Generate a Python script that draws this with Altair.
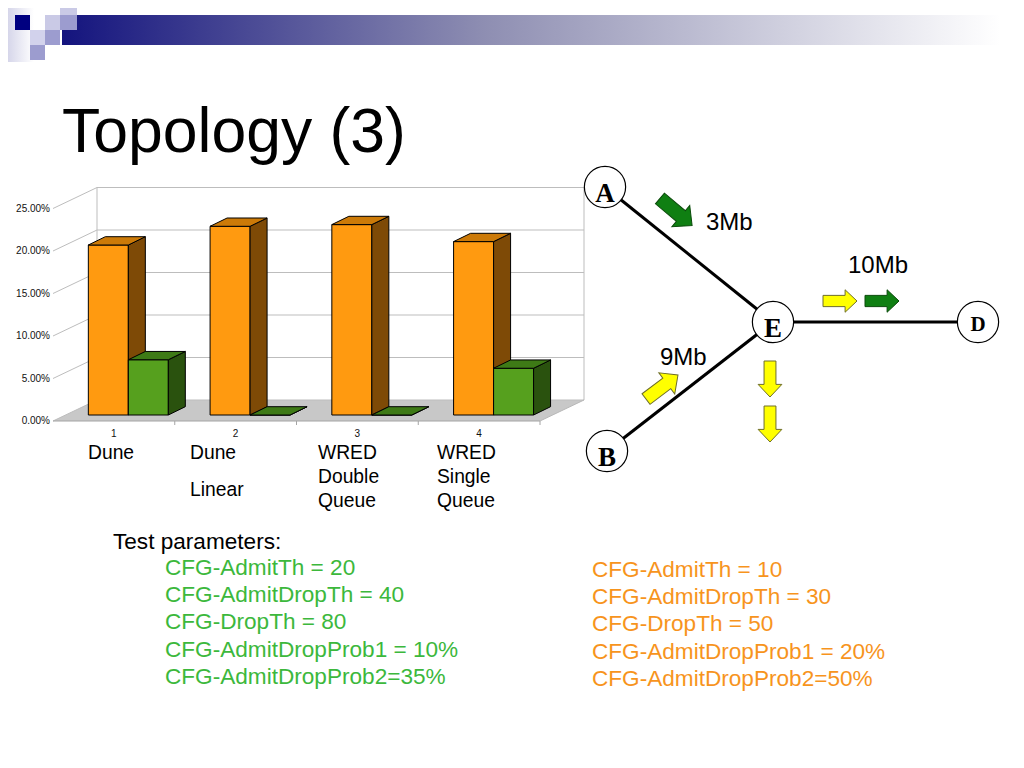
import altair as alt
import pandas as pd

# ---------------- data ----------------
categories = ["1", "2", "3", "4"]
category_names = [["Dune"], ["Dune", "Linear"], ["WRED", "Double", "Queue"], ["WRED", "Single", "Queue"]]
orange_values = [0.200, 0.222, 0.224, 0.204]
green_values = [0.065, 0.0, 0.0, 0.055]
y_ticks = [0.0, 0.05, 0.10, 0.15, 0.20, 0.25]

title_text = "Topology (3)"
params_header = "Test parameters:"
params_green = ["CFG-AdmitTh = 20", "CFG-AdmitDropTh = 40", "CFG-DropTh = 80",
                "CFG-AdmitDropProb1 = 10%", "CFG-AdmitDropProb2=35%"]
params_orange = ["CFG-AdmitTh = 10", "CFG-AdmitDropTh = 30", "CFG-DropTh = 50",
                 "CFG-AdmitDropProb1 = 20%", "CFG-AdmitDropProb2=50%"]

node_names = ["A", "B", "E", "D"]
link_pairs = [["A", "E"], ["B", "E"], ["E", "D"]]
link_labels = ["3Mb", "9Mb", "10Mb"]

# ---------------- layout (page pixels) ----------------
W, H = 1000, 744
M = 8                  # page coordinate of the plot's top-left corner
FONT = "Liberation Sans"
PPU = 850.0            # pixels per 100 %
FRONT_ZERO, BACK_ZERO, BAR_ZERO = 421, 400, 415
FRONT_LEFT, DEPTH_X, CAT_W = 53, 44, 121.75
BACK_LEFT = FRONT_LEFT + DEPTH_X
FRONT_RIGHT = FRONT_LEFT + len(categories) * CAT_W
BACK_RIGHT = FRONT_RIGHT + DEPTH_X
BAR_LEFT = FRONT_LEFT + DEPTH_X * (FRONT_ZERO - BAR_ZERO) / (FRONT_ZERO - BACK_ZERO)
BAR_GAP, BAR_W = 0.187, 0.3285
BAR_DX, BAR_DY = 17 / CAT_W, 8.3 / PPU

CAT_NAME_X = [88, 190, 318, 437]
CAT_LINE_Y = [[459], [459, 496], [459, 483, 507], [459, 483, 507]]

NODE_POS = {"A": (605, 187), "B": (607, 451), "E": (773, 322), "D": (978, 322)}
NODE_FONT = {"A": 27, "B": 27, "E": 27, "D": 21}
NODE_TEXT_DY = {"A": 15, "B": 15, "E": 15, "D": 9}
LINK_LABEL_POS = [(706, 230), (660, 365), (848, 273)]
ARROW = "M-1,-0.33L0.3,-0.33L0.3,-0.66L1,0L0.3,0.66L0.3,0.33L-1,0.33Z"
ARROWS = [  # x, y, angle, fill, stroke, size
    (676, 212, 40, "#0F7F12", "#0A4A0A", 1764),
    (840, 301, 0, "#FFFF00", "#6E6E2A", 1156),
    (882, 301, 0, "#0F7F12", "#0A4A0A", 1156),
    (662, 387, 323, "#FFFF00", "#6E6E2A", 1600),
    (770, 379, 90, "#FFFF00", "#6E6E2A", 1296),
    (770, 424, 90, "#FFFF00", "#6E6E2A", 1296),
]


# ---------------- scale helpers ----------------
def px_x(f):
    return alt.X(f, type="quantitative", stack=None, axis=None,
                 scale=alt.Scale(domain=[M, M + W], nice=False, zero=False))


def px_y(f):
    return alt.Y(f, type="quantitative", stack=None, axis=None,
                 scale=alt.Scale(domain=[M, M + H], reverse=True, nice=False, zero=False))


def pct_y(f, zero_px):
    return alt.Y(f, type="quantitative", stack=None, axis=None,
                 scale=alt.Scale(domain=[(zero_px - (M + H)) / PPU, (zero_px - M) / PPU],
                                 nice=False, zero=False))


def cat_x(f, left_px):
    return alt.X(f, type="quantitative", stack=None, axis=None,
                 scale=alt.Scale(domain=[(M - left_px) / CAT_W, (M + W - left_px) / CAT_W],
                                 nice=False, zero=False))


layers = []

# ---------------- header decoration ----------------
band = pd.DataFrame([{"x": 62, "x2": 1000, "y": 15, "y2": 45}])
layers.append(alt.Chart(band).mark_rect(
    fill=alt.LinearGradient(gradient="linear", x1=0, x2=1, y1=0, y2=0, stops=[
        alt.GradientStop(color="#14147E", offset=0),
        alt.GradientStop(color="#8E8EB2", offset=0.45),
        alt.GradientStop(color="#FFFFFF", offset=1)]),
    strokeWidth=0).encode(x=px_x("x"), x2="x2", y=px_y("y"), y2="y2"))
strip = pd.DataFrame([{"x": M, "x2": 34, "y": M, "y2": 62}])
layers.append(alt.Chart(strip).mark_rect(
    fill=alt.LinearGradient(gradient="linear", x1=0, x2=1, y1=0, y2=0, stops=[
        alt.GradientStop(color="#D6D6EA", offset=0),
        alt.GradientStop(color="#FFFFFF", offset=1)]),
    strokeWidth=0).encode(x=px_x("x"), x2="x2", y=px_y("y"), y2="y2"))
squares = pd.DataFrame([
    {"x": 15, "x2": 30, "y": 15, "y2": 30, "c": "#000080"},
    {"x": 45, "x2": 60, "y": 15, "y2": 30, "c": "#CACAE6"},
    {"x": 60, "x2": 77, "y": M, "y2": 15, "c": "#CACAE6"},
    {"x": 60, "x2": 77, "y": 15, "y2": 30, "c": "#9C9CCF"},
    {"x": 30, "x2": 45, "y": 30, "y2": 45, "c": "#D2D2EC"},
    {"x": 45, "x2": 60, "y": 30, "y2": 45, "c": "#9C9CCF"},
    {"x": 30, "x2": 45, "y": 45, "y2": 60, "c": "#9C9CCF"},
])
layers.append(alt.Chart(squares).mark_rect(strokeWidth=0).encode(
    x=px_x("x"), x2="x2", y=px_y("y"), y2="y2", fill=alt.Fill("c:N", scale=None)))

# title
layers.append(alt.Chart(pd.DataFrame([{"x": 62, "y": 152, "t": title_text}])).mark_text(
    align="left", baseline="alphabetic", fontSize=62.5, font=FONT, color="black").encode(
    x=px_x("x"), y=px_y("y"), text="t:N"))

# ---------------- 3-D bar chart frame ----------------
ticks = pd.DataFrame({"t": y_ticks, "lbl": [f"{t * 100:.2f}%" for t in y_ticks]})
ticks["t_back"] = ticks["t"] + (FRONT_ZERO - BACK_ZERO) / PPU
ticks["xl"], ticks["xr"] = BACK_LEFT, BACK_RIGHT
ticks["xf"], ticks["xlab"] = FRONT_LEFT, 50

floor = pd.DataFrame([
    {"v": 0.0, "xl": FRONT_LEFT, "xr": FRONT_RIGHT},
    {"v": (FRONT_ZERO - BACK_ZERO) / PPU, "xl": BACK_LEFT, "xr": BACK_RIGHT},
])
layers.append(alt.Chart(floor).mark_area(orient="horizontal", color="#C8C8C8").encode(
    y=pct_y("v", FRONT_ZERO), x=px_x("xl"), x2="xr"))

GRID = "#BDBDBD"
layers.append(alt.Chart(ticks).mark_rule(color=GRID, strokeWidth=1).encode(
    x=px_x("xl"), x2="xr", y=pct_y("t", BACK_ZERO)))
walls = pd.DataFrame({"x": [BACK_LEFT, BACK_RIGHT], "y0": [0.0, 0.0], "y1": [max(y_ticks)] * 2})
layers.append(alt.Chart(walls).mark_rule(color=GRID, strokeWidth=1).encode(
    x=px_x("x"), y=pct_y("y0", BACK_ZERO), y2="y1"))
layers.append(alt.Chart(ticks).mark_rule(color=GRID, strokeWidth=1).encode(
    x=px_x("xf"), x2="xl", y=pct_y("t", FRONT_ZERO), y2="t_back"))
front_axis = pd.DataFrame([{"x": FRONT_LEFT, "x2": FRONT_RIGHT, "y": 0.0}])
layers.append(alt.Chart(front_axis).mark_rule(color="#A4A4A4", strokeWidth=1).encode(
    x=px_x("x"), x2="x2", y=pct_y("y", FRONT_ZERO)))
side_edge = pd.DataFrame([{"x": FRONT_RIGHT, "x2": BACK_RIGHT, "y": 0.0,
                           "y2": (FRONT_ZERO - BACK_ZERO) / PPU}])
layers.append(alt.Chart(side_edge).mark_rule(color="#B8B8B8", strokeWidth=1).encode(
    x=px_x("x"), x2="x2", y=pct_y("y", FRONT_ZERO), y2="y2"))
tick_marks = pd.DataFrame({"x": [FRONT_LEFT + k * CAT_W for k in range(1, len(categories) + 1)]})
tick_marks["y0"], tick_marks["y1"] = 0.0, -4 / PPU
layers.append(alt.Chart(tick_marks).mark_rule(color="#A4A4A4", strokeWidth=1).encode(
    x=px_x("x"), y=pct_y("y0", FRONT_ZERO), y2="y1"))

layers.append(alt.Chart(ticks).mark_text(align="right", baseline="middle", fontSize=10,
                                         font=FONT, color="#111111").encode(
    x=px_x("xlab"), y=pct_y("t", FRONT_ZERO), text="lbl:N"))

catnum = pd.DataFrame({"c": categories, "i": range(len(categories))})
catnum["u"] = catnum["i"] + 0.5
catnum["y"] = -16 / PPU
layers.append(alt.Chart(catnum).mark_text(align="center", baseline="alphabetic", fontSize=10,
                                          font=FONT, color="#111111").encode(
    x=cat_x("u", FRONT_LEFT), y=pct_y("y", FRONT_ZERO), text="c:N"))

# ---------------- bars (front, side, top faces) ----------------
series_styles = [
    (orange_values, "#FF9A10", "#7E4A06", "#CC7A08"),
    (green_values, "#56A01E", "#2A520E", "#3E7A16"),
]
for s, (vals, c_front, c_side, c_top) in enumerate(series_styles):
    front, side, top = [], [], []
    for i, v in enumerate(vals):
        u0 = i + BAR_GAP + s * BAR_W
        u1 = u0 + BAR_W
        bid = f"{s}-{i}"
        front.append({"u0": u0, "u1": u1, "v": v, "b": 0.0})
        side += [{"bid": bid, "u": u1, "top": v, "bot": 0.0},
                 {"bid": bid, "u": u1 + BAR_DX, "top": v + BAR_DY, "bot": BAR_DY}]
        top += [{"bid": bid, "v": v, "xl": u0, "xr": u1},
                {"bid": bid, "v": v + BAR_DY, "xl": u0 + BAR_DX, "xr": u1 + BAR_DX}]
    layers.append(alt.Chart(pd.DataFrame(front)).mark_rect(
        fill=c_front, stroke="black", strokeWidth=1).encode(
        x=cat_x("u0", BAR_LEFT), x2="u1", y=pct_y("v", BAR_ZERO), y2="b"))
    layers.append(alt.Chart(pd.DataFrame(side)).mark_area(
        orient="vertical", fill=c_side, stroke="black", strokeWidth=1, opacity=1).encode(
        x=cat_x("u", BAR_LEFT), y=pct_y("top", BAR_ZERO), y2="bot", detail="bid:N"))
    layers.append(alt.Chart(pd.DataFrame(top)).mark_area(
        orient="horizontal", fill=c_top, stroke="black", strokeWidth=1, opacity=1).encode(
        y=pct_y("v", BAR_ZERO), x=cat_x("xl", BAR_LEFT), x2="xr", detail="bid:N"))

# category names
cn_rows = []
for i, lines in enumerate(category_names):
    for j, t in enumerate(lines):
        cn_rows.append({"x": CAT_NAME_X[i], "y": CAT_LINE_Y[i][j], "t": t})
layers.append(alt.Chart(pd.DataFrame(cn_rows)).mark_text(
    align="left", baseline="alphabetic", fontSize=19.3, font=FONT, color="black").encode(
    x=px_x("x"), y=px_y("y"), text="t:N"))

# ---------------- topology diagram ----------------
link_df = pd.DataFrame([{"x": NODE_POS[a][0], "y": NODE_POS[a][1],
                         "x2": NODE_POS[b][0], "y2": NODE_POS[b][1]} for a, b in link_pairs])
layers.append(alt.Chart(link_df).mark_rule(color="black", strokeWidth=3).encode(
    x=px_x("x"), y=px_y("y"), x2="x2", y2="y2"))

arrow_df = pd.DataFrame(ARROWS, columns=["x", "y", "angle", "fill", "stroke", "size"])
layers.append(alt.Chart(arrow_df).mark_point(
    shape=ARROW, filled=True, strokeWidth=1, opacity=1).encode(
    x=px_x("x"), y=px_y("y"), angle=alt.Angle("angle:Q", scale=None),
    size=alt.Size("size:Q", scale=None), fill=alt.Fill("fill:N", scale=None),
    stroke=alt.Stroke("stroke:N", scale=None)))

node_df = pd.DataFrame([{"n": n, "x": NODE_POS[n][0], "y": NODE_POS[n][1],
                         "fs": NODE_FONT[n], "ty": NODE_POS[n][1] + NODE_TEXT_DY[n]}
                        for n in node_names])
layers.append(alt.Chart(node_df).mark_point(
    shape="circle", filled=True, fill="white", stroke="black", strokeWidth=1.2,
    size=1700, opacity=1).encode(x=px_x("x"), y=px_y("y")))
layers.append(alt.Chart(node_df).mark_text(
    align="center", baseline="alphabetic", font="Liberation Serif", fontWeight="bold",
    color="black").encode(x=px_x("x"), y=px_y("ty"), text="n:N",
                          size=alt.Size("fs:Q", scale=None)))

ll_df = pd.DataFrame([{"x": p[0], "y": p[1], "t": t} for p, t in zip(LINK_LABEL_POS, link_labels)])
layers.append(alt.Chart(ll_df).mark_text(
    align="left", baseline="alphabetic", fontSize=24, font=FONT, color="black").encode(
    x=px_x("x"), y=px_y("y"), text="t:N"))

# ---------------- test parameters ----------------
txt_rows = [{"x": 113, "y": 549, "t": params_header, "c": "#000000"}]
for t, y in zip(params_green, [575, 602, 629, 657, 684]):
    txt_rows.append({"x": 165, "y": y, "t": t, "c": "#3CB83C"})
for t, y in zip(params_orange, [577, 604, 631, 659, 686]):
    txt_rows.append({"x": 592, "y": y, "t": t, "c": "#F7941D"})
layers.append(alt.Chart(pd.DataFrame(txt_rows)).mark_text(
    align="left", baseline="alphabetic", fontSize=22.6, font=FONT).encode(
    x=px_x("x"), y=px_y("y"), text="t:N", color=alt.Color("c:N", scale=None)))

chart = alt.layer(*layers).resolve_scale(x="independent", y="independent").properties(
    width=W, height=H, padding=0, background="white",
    autosize=alt.AutoSizeParams(type="none"),
).configure_view(stroke=None)

chart.save("out.html", embed_options={"renderer": "svg", "actions": False})
